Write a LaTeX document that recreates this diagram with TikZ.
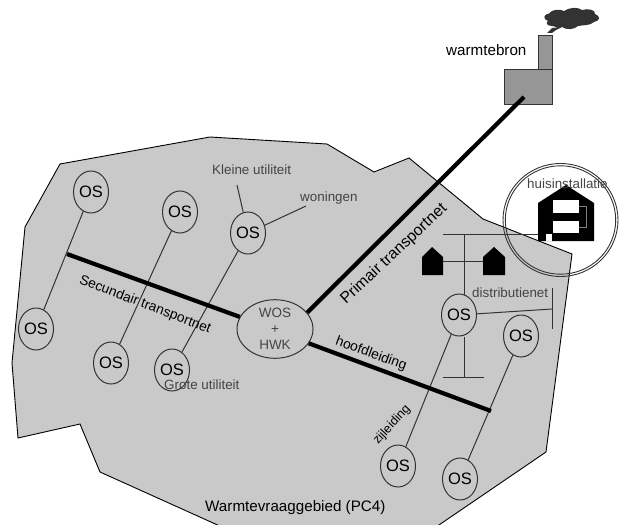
\documentclass[tikz,border=0pt]{standalone}
\usepackage{fontspec}
\setmainfont{Liberation Sans}
\usetikzlibrary{shapes.geometric}
\definecolor{areagray}{HTML}{C9C9C9}
\definecolor{stackgray}{HTML}{969696}
\definecolor{linegray}{HTML}{333333}
\definecolor{labelgray}{HTML}{444444}
\tikzset{
  area/.style={draw=black,line width=0.9pt,fill=areagray},
  osnode/.style={ellipse,draw=linegray,line width=1pt,fill=areagray,minimum width=35pt,minimum height=42pt,inner sep=0pt,font=\fontsize{16.5}{16.5}\selectfont,text=black},
  hub/.style={ellipse,draw=linegray,line width=1pt,fill=areagray,minimum width=76pt,minimum height=55pt,inner sep=0pt,align=center,font=\fontsize{13.5}{16}\selectfont,text=labelgray},
  thick net/.style={line width=4.2pt,black},
  thin net/.style={line width=1pt,linegray},
  lab/.style={font=\fontsize{13.4}{13.4}\selectfont,text=labelgray,inner sep=0pt},
  blab/.style={font=\fontsize{15.2}{15.2}\selectfont,text=black,inner sep=0pt},
  rlab/.style={font=\fontsize{13.8}{13.8}\selectfont,text=black,inner sep=0pt},
  house/.style={fill=black,draw=none},
  stack/.style={draw=linegray,line width=0.9pt,fill=stackgray}
}
\begin{document}
\begin{tikzpicture}[x=1pt,y=-1pt]
\useasboundingbox (0,0) rectangle (620,524);
\begin{scope}
\clip (0,0) rectangle (620,524);
% area
\draw[area] (60,164) -- (210,137) -- (327,144) -- (374,172) -- (409,158) -- (483,219) -- (572,254) -- (546,452) -- (436,527) -- (222,527) -- (100,472) -- (80,424) -- (18,438) -- (12,363) -- (25,227) -- cycle;
\end{scope}
% source
\node[stack,minimum width=14pt,minimum height=34pt,inner sep=0pt,anchor=north west] (stackn) at (538,35) {};
\node[stack,minimum width=48pt,minimum height=35pt,inner sep=0pt,anchor=north west] (plant) at (504,69) {};
\fill[linegray] (547,33) -- (552,28) -- (558,27.5) -- (552,26) .. controls (546,26) and (546,22) .. (548,21) .. controls (542,19) and (544,14) .. (549,13.5) .. controls (552,9) and (560,9) .. (564,11) .. controls (570,7) and (578,7) .. (582,10) .. controls (588,8) and (596,10) .. (595,14) .. controls (601,16) and (600,21) .. (594,22) .. controls (590,26) and (582,25) .. (578,26) .. controls (574,30) and (566,30) .. (562,27) -- (556,30) -- (552,33) -- cycle;
% house circle
\draw[linegray,line width=0.9pt] (560.5,220) ellipse [x radius=57.5,y radius=56.5];
\draw[linegray,line width=0.9pt] (560.5,220) ellipse [x radius=55.2,y radius=54.2];
% OS nodes
\node[osnode] (os1) at (91,192) {OS};
\node[osnode] (os2) at (180,212) {OS};
\node[osnode] (os3) at (248,233) {OS};
\node[osnode] (os4) at (36,329) {OS};
\node[osnode] (os5) at (111,363) {OS};
\node[osnode] (os6) at (172,370) {OS};
\node[osnode] (os7) at (459,315) {OS};
\node[osnode] (os8) at (521,336) {OS};
\node[osnode] (os9) at (398,466) {OS};
\node[osnode] (os10) at (460,479) {OS};
\node[hub] (hub) at (275,329) {WOS\\+\\HWK};
% free ends
\coordinate (secend) at (67,254);
\coordinate (hoofdend) at (491,411);
\coordinate (primend) at (524,97);
\coordinate (kl) at (237,185);
\coordinate (wo) at (306,206);
\coordinate (ta) at (464,377);
\coordinate (tl) at (443,377);
\coordinate (tr) at (484,377);
\coordinate (ua) at (464,234);
\coordinate (ub) at (464,295);
\coordinate (ul) at (443,234);
\coordinate (ur) at (538,234);
\coordinate (dv1) at (552,288);
\coordinate (dv2) at (552,329);
\coordinate (dm) at (552,309);
% networks
\draw[thin net] (os1) -- (os4);
\draw[thin net] (os2) -- (os5);
\draw[thin net] (os3) -- (os6);
\draw[thin net] (os7) -- (os9);
\draw[thin net] (os8) -- (os10);
\draw[thin net] (os3) -- (kl);
\draw[thin net] (os3) -- (wo);
\draw[thin net] (os7.south -| ta) -- (ta);
\draw[thin net] (tl) -- (tr);
\draw[thin net] (ua) -- (ub);
\draw[thin net] (ul) -- (ur);
\draw[thin net] (os7) -- (dm);
\draw[thin net] (dv1) -- (dv2);
\draw[thick net] (hub.161) -- (secend);
\draw[thick net] (hub.-23) -- (hoofdend);
\draw[thick net] (hub.27) -- (primend);
% houses
\path[house] (422,275) -- (422,257) -- (432,247) -- (443,257) -- (443,275) -- cycle;
\node[inner sep=0pt,minimum size=0pt] (hl) at (443,261) {};
\path[house] (483,275) -- (483,257) -- (494,247) -- (505,257) -- (505,275) -- cycle;
\node[inner sep=0pt,minimum size=0pt] (hr) at (483,261) {};
\draw[thin net] (hl) -- (hr);
\path[house] (538,241) -- (538,203) -- (566,185) -- (594,203) -- (594,241) -- cycle;
\fill[white] (553,200) rectangle (579,213);
\fill[white] (553,221) rectangle (579,233);
\fill[white] (546,234) rectangle (552,241);
\draw[gray,line width=0.7pt] (579,206) -- (586,206) -- (586,227) -- (579,227);
% labels
\node[blab,anchor=west] (tsrc) at (446,50) {warmtebron};
\node[lab,anchor=west] (tkl) at (212,170) {Kleine utiliteit};
\node[lab,anchor=west] (two) at (300,198) {woningen};
\node[lab,anchor=west] (thi) at (527,184) {huisinstallatie};
\node[lab,anchor=west] (tdi) at (472,293) {distributienet};
\node[lab,anchor=west] (tgr) at (164,385) {Grote utiliteit};
\node[rlab,rotate=-21] (tse) at (145,305) {Secundair transportnet};
\node[rlab,rotate=-20] (tho) at (371,354) {hoofdleiding};
\node[rlab,rotate=47,font=\fontsize{12.5}{12.5}\selectfont] (tzi) at (392,425) {zijleiding};
\node[blab,rotate=43,font=\fontsize{15.8}{15.8}\selectfont] (tpr) at (394,254) {Primair transportnet};
\node[blab,anchor=west] (tva) at (205,508) {Warmtevraaggebied (PC4)};
\end{tikzpicture}
\end{document}
